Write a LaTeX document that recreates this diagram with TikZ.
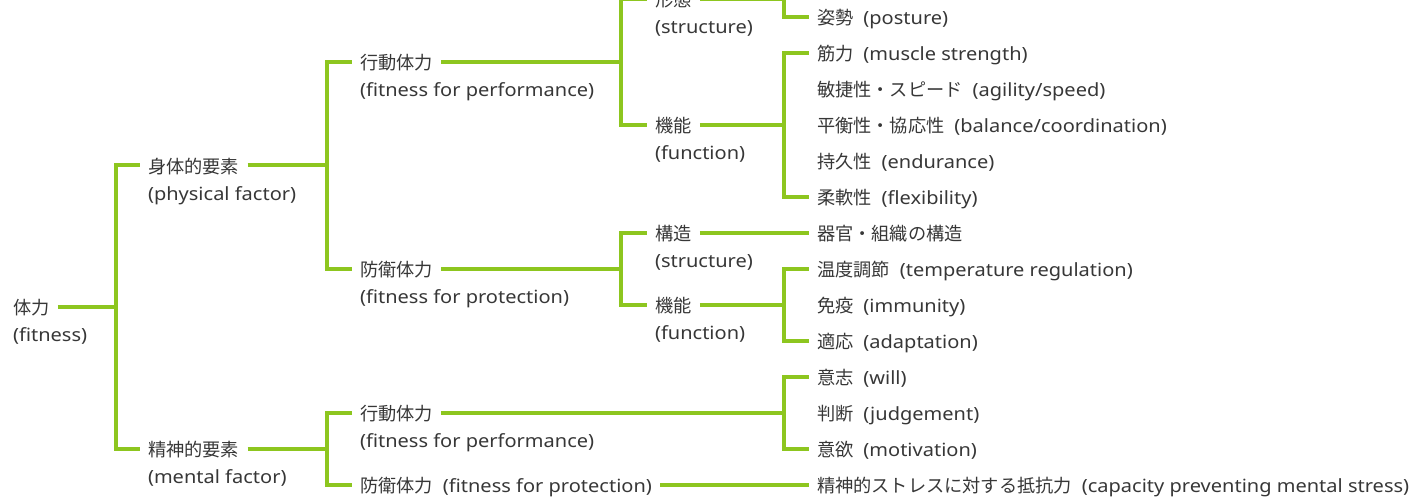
\documentclass[tikz,border=0pt]{standalone}
\usepackage{fontspec}
\setmainfont{Noto Sans}[FakeStretch=1.1]
\newfontfamily\jp{Noto Sans CJK JP}
\definecolor{lg}{RGB}{141,198,31}
\definecolor{tx}{RGB}{55,55,55}
\newcommand{\gp}{\hspace{0.55em}}
\begin{document}
\begin{tikzpicture}[x=0.5pt,y=-0.5pt,
  lbl/.style={anchor=west, inner sep=0pt, outer sep=4.25pt, text height=0.88em, text depth=0.12em,
    font=\fontsize{9.1pt}{12pt}\selectfont, text=tx},
  conn/.style={draw=lg, line width=2pt}]
\useasboundingbox (0,0) rectangle (1416,497);
% bar coordinates
\coordinate (b0) at (116,0);
\coordinate (b1) at (327,0);
\coordinate (b2) at (621,0);
\coordinate (b3) at (784,0);
% level 0
\node[lbl] (t0) at (4.5,307) {\jp 体力};
\node[lbl] (t0s) at (4.5,334) {(fitness)};
% level 1
\node[lbl] (p1) at (139.5,165.5) {\jp 身体的要素};
\node[lbl] (p1s) at (139.5,192.5) {(physical factor)};
\node[lbl] (m1) at (139.5,449) {\jp 精神的要素};
\node[lbl] (m1s) at (139.5,476) {(mental factor)};
% level 2
\node[lbl] (pa) at (351.5,62) {\jp 行動体力};
\node[lbl] (pas) at (351.5,89) {(fitness for performance)};
\node[lbl] (pb) at (351.5,269) {\jp 防衛体力};
\node[lbl] (pbs) at (351.5,296) {(fitness for protection)};
\node[lbl] (ma) at (351.5,413) {\jp 行動体力};
\node[lbl] (mas) at (351.5,440) {(fitness for performance)};
\node[lbl] (mb) at (351.5,485) {{\jp 防衛体力}\gp(fitness for protection)};
% level 3
\node[lbl] (k1) at (646.5,-1) {\jp 形態};
\node[lbl] (k1s) at (646.5,26) {(structure)};
\node[lbl] (k2) at (646.5,125) {\jp 機能};
\node[lbl] (k2s) at (646.5,152) {(function)};
\node[lbl] (k3) at (646.5,233) {\jp 構造};
\node[lbl] (k3s) at (646.5,260) {(structure)};
\node[lbl] (k4) at (646.5,305) {\jp 機能};
\node[lbl] (k4s) at (646.5,332) {(function)};
% items
\node[lbl] (i0) at (808.5,17) {{\jp 姿勢}\gp(posture)};
\node[lbl] (i1) at (808.5,53) {{\jp 筋力}\gp(muscle strength)};
\node[lbl] (i2) at (808.5,89) {{\jp 敏捷性・スピード}\gp(agility/speed)};
\node[lbl] (i3) at (808.5,125) {{\jp 平衡性・協応性}\gp(balance/coordination)};
\node[lbl] (i4) at (808.5,161) {{\jp 持久性}\gp(endurance)};
\node[lbl] (i5) at (808.5,197) {{\jp 柔軟性}\gp(flexibility)};
\node[lbl] (i6) at (808.5,233) {\jp 器官・組織の構造};
\node[lbl] (i7) at (808.5,269) {{\jp 温度調節}\gp(temperature regulation)};
\node[lbl] (i8) at (808.5,305) {{\jp 免疫}\gp(immunity)};
\node[lbl] (i9) at (808.5,341) {{\jp 適応}\gp(adaptation)};
\node[lbl] (i10) at (808.5,377) {{\jp 意志}\gp(will)};
\node[lbl] (i11) at (808.5,413) {{\jp 判断}\gp(judgement)};
\node[lbl] (i12) at (808.5,449) {{\jp 意欲}\gp(motivation)};
\node[lbl] (i13) at (808.5,485) {{\jp 精神的ストレスに対する抵抗力}\gp(capacity preventing mental stress)};
% connectors
\draw[conn] (t0.east) -- (t0.east -| b0);
\draw[conn] (p1.west) -- (p1.west -| b0) -- (m1.west -| b0) -- (m1.west);
\draw[conn] (p1.east) -- (p1.east -| b1);
\draw[conn] (pa.west) -- (pa.west -| b1) -- (pb.west -| b1) -- (pb.west);
\draw[conn] (m1.east) -- (m1.east -| b1);
\draw[conn] (ma.west) -- (ma.west -| b1) -- (mb.west -| b1) -- (mb.west);
\draw[conn] (pa.east) -- (pa.east -| b2);
\draw[conn] (k1.west) -- (k1.west -| b2) -- (k2.west -| b2) -- (k2.west);
\draw[conn] (pb.east) -- (pb.east -| b2);
\draw[conn] (k3.west) -- (k3.west -| b2) -- (k4.west -| b2) -- (k4.west);
\draw[conn] (k1.east) -- (k1.east -| b3) -- (i0.west -| b3) -- (i0.west);
\draw[conn] (k2.east) -- (k2.east -| b3);
\draw[conn] (i1.west) -- (i1.west -| b3) -- (i5.west -| b3) -- (i5.west);
\draw[conn] (k3.east) -- (i6.west);
\draw[conn] (k4.east) -- (k4.east -| b3);
\draw[conn] (i7.west) -- (i7.west -| b3) -- (i9.west -| b3) -- (i9.west);
\draw[conn] (ma.east) -- (ma.east -| b3);
\draw[conn] (i10.west) -- (i10.west -| b3) -- (i12.west -| b3) -- (i12.west);
\draw[conn] (mb.east) -- (i13.west);
\end{tikzpicture}
\end{document}
